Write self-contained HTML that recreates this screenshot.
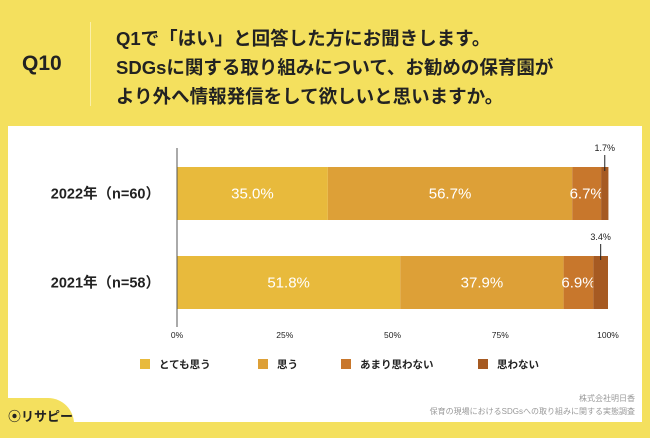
<!DOCTYPE html>
<html><head><meta charset="utf-8"><style>
body{margin:0;width:650px;height:434px;background:#F4E05E;font-family:"Liberation Sans","Noto Sans CJK JP",sans-serif;position:relative;overflow:hidden}
.abs{position:absolute}
</style></head><body>
<div class="abs" style="left:22px;top:52px;font-size:21px;font-weight:bold;color:#222">Q10</div>
<div class="abs" style="left:90px;top:22px;width:1px;height:84px;background:#fbf0a8"></div>
<div class="abs" style="left:116px;top:24px;font-size:18.5px;font-weight:bold;line-height:29px;color:#222;white-space:nowrap">Q1で「はい」と回答した方にお聞きします。<br>SDGsに関する取り組みについて、お勧めの保育園が<br>より外へ情報発信をして欲しいと思いますか。</div>
<div class="abs" style="left:8px;top:126px;width:634px;height:296px;background:#fff"></div>
<div class="abs" style="left:0;top:398px;width:74px;height:40px;background:#F4E05E;border-top-right-radius:26px"></div>
<div class="abs" style="left:8px;top:406px;font-size:13px;font-weight:bold;color:#222">⦿リサピー</div>
<div class="abs" style="right:15px;top:392px;font-size:8px;color:#999;text-align:right;line-height:13px">株式会社明日香<br>保育の現場におけるSDGsへの取り組みに関する実態調査</div>
<svg class="abs" style="left:0;top:0" width="650" height="434" id="chart"></svg>
<script>
const categories=["2022年（n=60）","2021年（n=58）"];
const seriesNames=["とても思う","思う","あまり思わない","思わない"];
const s1=[35.0,51.8];
const s2=[56.7,37.9];
const s3=[6.7,6.9];
const s4=[1.7,3.4];
const ticks=[0,25,50,75,100];
const colors=["#E8BA3C","#DDA037","#C8772C","#A65A22"];
const svg=document.getElementById('chart');
const NS='http://www.w3.org/2000/svg';
const x0=177,x1=608;
const X=v=>x0+(x1-x0)*v/100;
const rowY=[167,256], bh=53;
function mk(t,a,txt){const e=document.createElementNS(NS,t);for(const k in a)e.setAttribute(k,a[k]);if(txt!=null)e.textContent=txt;svg.appendChild(e);return e;}
const series=[s1,s2,s3,s4];
categories.forEach((c,i)=>{
  let acc=0;
  const l=mk('text',{x:160,y:rowY[i]+bh/2+5,'text-anchor':'end','font-size':14.5,'font-weight':'bold',fill:'#222'},c);
  
  
  series.forEach((s,j)=>{
    const v=s[i];
    const r=mk('rect',{x:X(acc),y:rowY[i],width:X(acc+v)-X(acc),height:bh,fill:colors[j]});
    
    
    const cx=(X(acc)+X(acc+v))/2;
    if(j<3){
      const t=mk('text',{x:cx,y:rowY[i]+bh/2+5,'text-anchor':'middle','font-size':15,fill:'#fff'},v.toFixed(1)+'%');
      
      
    }else{
      mk('line',{x1:cx,x2:cx,y1:rowY[i]-12,y2:rowY[i]+4,stroke:'#222','stroke-width':1});
      const t=mk('text',{x:cx,y:rowY[i]-16,'text-anchor':'middle','font-size':9,fill:'#222'},v.toFixed(1)+'%');
      
      
    }
    acc+=v;
  });
});
mk('line',{x1:x0,x2:x0,y1:148,y2:327,stroke:'#555','stroke-width':1});
ticks.forEach(t=>{
  const e=mk('text',{x:X(t),y:338,'text-anchor':'middle','font-size':8.5,fill:'#222'},t+'%');
  
  
});
const legX=[140,258,341,478];
seriesNames.forEach((n,j)=>{
  const r=mk('rect',{x:legX[j],y:359,width:10,height:10,fill:colors[j]});
  
  
  const t=mk('text',{x:legX[j]+19,y:368,'font-size':10.5,'font-weight':'bold',fill:'#222'},n);
  
  
});
</script>
</body></html>
